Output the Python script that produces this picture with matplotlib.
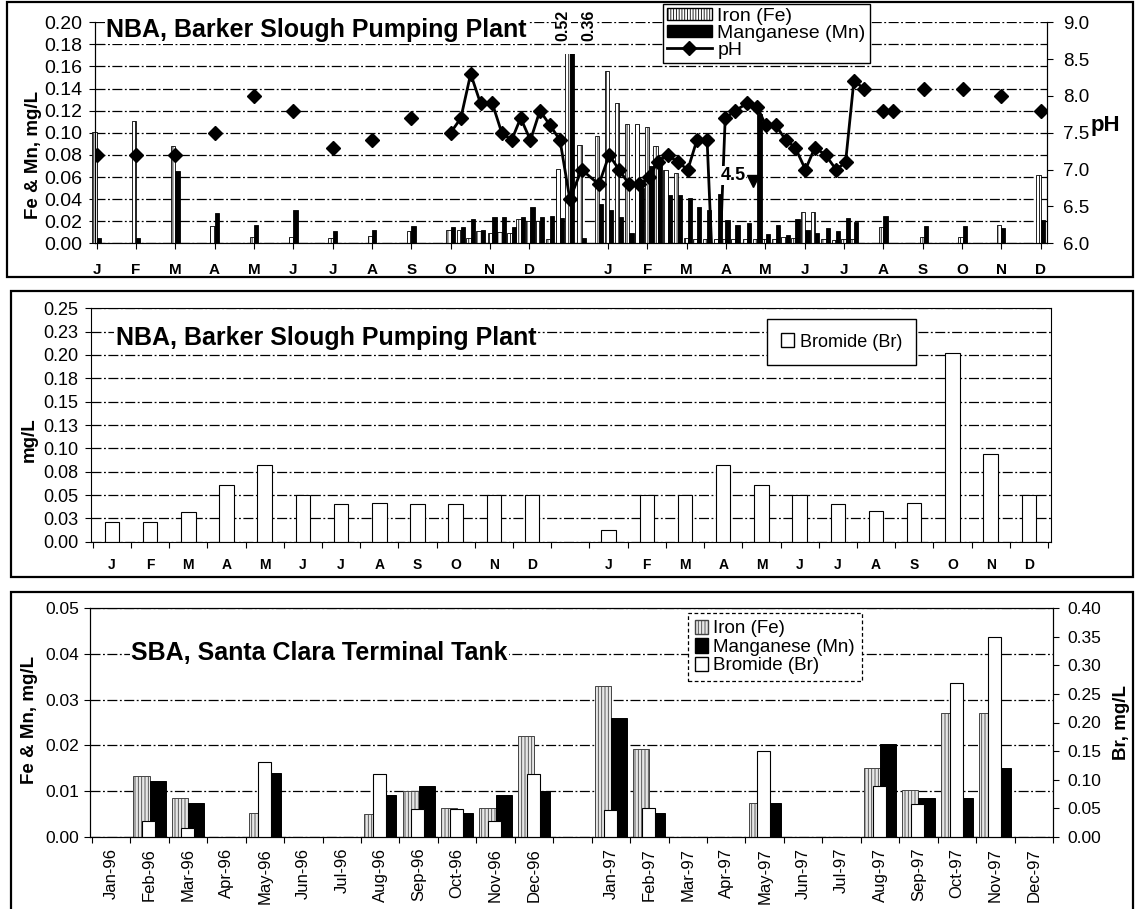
import numpy as np
import matplotlib
matplotlib.use('Agg')
import matplotlib.pyplot as plt
from matplotlib.patches import Rectangle, Patch
from matplotlib.lines import Line2D
from matplotlib.ticker import FormatStrFormatter

plt.rcParams['font.family'] = ['Liberation Sans', 'DejaVu Sans']
plt.rcParams['hatch.linewidth'] = 0.6

# month positions: 1996 at 0..11, 1997 at 13..24 (one blank month between years)
month_letters = ['J', 'F', 'M', 'A', 'M', 'J', 'J', 'A', 'S', 'O', 'N', 'D']
month_names = ['Jan', 'Feb', 'Mar', 'Apr', 'May', 'Jun',
               'Jul', 'Aug', 'Sep', 'Oct', 'Nov', 'Dec']
month_pos = list(range(12)) + list(range(13, 25))

# --- NBA Barker Slough: Fe / Mn samples (mg/L) ---
nba_t = [0, 1, 2, 3, 4, 5, 6, 7, 8,
         9.0, 9.26, 9.51, 9.76, 10.06, 10.30, 10.55, 10.78, 11.03, 11.27, 11.53, 11.78,
         12.03, 12.33, 12.77, 13.03, 13.28, 13.54, 13.80, 14.05, 14.26, 14.52, 14.78,
         15.03, 15.26, 15.52, 15.80, 15.98, 16.24, 16.53, 16.80, 17.01, 17.27, 17.52,
         17.76, 18.02, 18.26, 18.53, 18.80, 19.04, 19.25, 20.0, 21.03, 22.02, 22.99, 24.0]
nba_fe = [0.101, 0.111, 0.088, 0.016, 0.0055, 0.0055, 0.005, 0.0066, 0.0115,
          0.012, 0.012, 0.005, 0.011, 0.009, 0.010, 0.009, 0.022, 0.020, 0.020, 0.004, 0.067,
          0.36, 0.089, 0.097, 0.156, 0.127, 0.108, 0.108, 0.105, 0.088, 0.066, 0.064,
          0.005, 0.004, 0.004, 0.004, 0.004, 0.004, 0.004, 0.004, 0.004, 0.004, 0.006,
          0.005, 0.028, 0.028, 0.004, 0.003, 0.004, 0.004, 0.015, 0.0055, 0.0055, 0.0166, 0.062]
nba_mn = [0.0045, 0.005, 0.065, 0.027, 0.017, 0.030, 0.011, 0.012, 0.0157,
          0.015, 0.015, 0.022, 0.012, 0.024, 0.024, 0.015, 0.024, 0.033, 0.024, 0.025, 0.023,
          0.52, 0.005, 0.036, 0.030, 0.024, 0.009, 0.050, 0.070, 0.078, 0.044, 0.044,
          0.041, 0.033, 0.030, 0.045, 0.021, 0.017, 0.018, 0.117, 0.0085, 0.017, 0.0075,
          0.022, 0.012, 0.009, 0.014, 0.011, 0.023, 0.019, 0.025, 0.016, 0.016, 0.0136, 0.021]

# --- NBA Barker Slough: pH ---
ph_t = [0, 1, 2, 3, 4, 5, 6, 7, 8,
        9.0, 9.26, 9.51, 9.76, 10.06, 10.30, 10.55, 10.78, 11.03, 11.27, 11.53, 11.78,
        12.03, 12.33, 12.77, 13.03, 13.28, 13.54, 13.80, 14.05, 14.26, 14.52, 14.78,
        15.03, 15.26, 15.52, 15.75, 15.98, 16.24, 16.53, 16.80, 17.01, 17.27, 17.52,
        17.76, 18.02, 18.26, 18.53, 18.80, 19.04, 19.25, 19.52,
        20.0, 20.24, 21.03, 22.02, 22.99, 24.0]
ph_v = [7.2, 7.2, 7.2, 7.5, 8.0, 7.8, 7.3, 7.4, 7.7,
        7.5, 7.7, 8.3, 7.9, 7.9, 7.5, 7.4, 7.7, 7.4, 7.8, 7.6, 7.4,
        6.6, 7.0, 6.8, 7.2, 7.0, 6.8, 6.8, 6.9, 7.1, 7.2, 7.1,
        7.0, 7.4, 7.4, 4.5, 7.7, 7.8, 7.9, 7.85, 7.6, 7.6, 7.4,
        7.3, 7.0, 7.3, 7.2, 7.0, 7.1, 8.2, 8.1,
        7.8, 7.8, 8.1, 8.1, 8.0, 7.8]

# --- NBA Barker Slough: bromide, monthly ---
br_nba = [0.021, 0.021, 0.032, 0.061, 0.082, 0.050, 0.040, 0.041, 0.040, 0.040, 0.050, 0.050,
          0.012, 0.050, 0.050, 0.082, 0.061, 0.050, 0.040, 0.033, 0.041, 0.202, 0.094, 0.050]
br_ticks = ['0.00', '0.03', '0.05', '0.08', '0.10', '0.13',
            '0.15', '0.18', '0.20', '0.23', '0.25']

# --- SBA Santa Clara Terminal Tank ---
sba_t = [1, 2, 4, 7, 8, 9, 10, 11, 13, 14, 17, 20, 21, 22, 23]
sba_fe = [0.0133, 0.0084, 0.0051, 0.005, 0.010, 0.0062, 0.0062, 0.022,
          0.033, 0.0193, 0.0073, 0.0151, 0.0102, 0.0271, 0.027]
sba_mn = [0.0122, 0.0074, 0.014, 0.0091, 0.011, 0.0051, 0.0091, 0.010,
          0.026, 0.0051, 0.0073, 0.0202, 0.0084, 0.0084, 0.0151]
sba_br = [0.028, 0.016, 0.13, 0.11, 0.048, 0.049, 0.028, 0.11,
          0.047, 0.050, 0.15, 0.088, 0.058, 0.27, 0.35]

W, H = 1135, 909


def fx(px):
    return px / W


def fy(py):
    return 1 - py / H


grid_kw = dict(color='black', lw=0.9, ls=(0, (8, 2, 1.5, 2)))
title_size = 18
fig = plt.figure(figsize=(W / 100, H / 100), dpi=100)

# panel frames
for x0, y0, x1, y1 in [(7, 2, 1133, 277), (11, 291, 1133, 577), (11, 592, 1133, 915)]:
    fig.add_artist(Rectangle((fx(x0), fy(y1)), fx(x1) - fx(x0), fy(y0) - fy(y1),
                             transform=fig.transFigure, fill=False, lw=1.6, color='black'))

# ================= top: Fe, Mn and pH =================
ax1 = fig.add_axes([fx(94.6), fy(243.3), fx(1046.6) - fx(94.6), fy(22.3) - fy(243.3)])
ax1.set_xlim(-0.05, 24.15)
ax1.set_ylim(0, 0.20)
ax1.set_axisbelow(True)
t = np.array(nba_t)
fe_bars = ax1.bar(t - 0.055, nba_fe, 0.11, color='white', edgecolor='black',
                  lw=0.6, hatch='||||', zorder=2)
mn_bars = ax1.bar(t + 0.055, nba_mn, 0.11, color='black', edgecolor='black', lw=0.6, zorder=2)
# off-scale bars are cut short, values written above
cut = Rectangle((-1, 0), 30, 0.171, transform=ax1.transData)
for b in list(fe_bars) + list(mn_bars):
    b.set_clip_path(cut)
for xv, txt in [(11.86, '0.52'), (12.52, '0.36')]:
    ax1.text(xv, 0.197, txt, rotation=90, fontsize=11.5, fontweight='bold',
             ha='center', va='center', clip_on=False,
             bbox=dict(fc='white', ec='none', pad=0.5))

ax1.set_yticks(np.arange(0, 0.2001, 0.02))
ax1.yaxis.set_major_formatter(FormatStrFormatter('%.2f'))
ax1.grid(axis='y', **grid_kw)
ax1.set_xticks(month_pos)
ax1.set_xticklabels(month_letters * 2, fontweight='bold', fontsize=11)
ax1.tick_params(axis='x', length=4, pad=10)
ax1.tick_params(axis='y', labelsize=14, length=4, pad=5)
ax1.spines['top'].set_visible(False)
ax1.text(0.012, 0.965, 'NBA, Barker Slough Pumping Plant', transform=ax1.transAxes,
         fontsize=title_size, fontweight='bold', va='center', ha='left',
         bbox=dict(fc='white', ec='none', pad=1))

ax1r = ax1.twinx()
ax1r.set_ylim(6, 9)
pt = np.array(ph_t)
pv = np.array(ph_v)
run = (pt >= 9) & (pt <= 19.6)
ax1r.plot(pt[run], pv[run], color='black', lw=2)
ax1r.plot(pt, pv, ls='none', marker='D', ms=7, color='black')
ax1r.text(16.18, 6.92, '4.5', fontsize=13, fontweight='bold', ha='center', va='center',
          bbox=dict(fc='white', ec='none', pad=0.5))
ax1r.plot([16.68], [6.84], marker='v', ms=8, color='black')
ax1r.set_yticks(np.arange(6, 9.01, 0.5))
ax1r.yaxis.set_major_formatter(FormatStrFormatter('%.1f'))
ax1r.tick_params(axis='y', labelsize=13.5, length=4, pad=8)
ax1r.spines['top'].set_visible(False)
fig.text(fx(1091), fy(125), 'pH', fontsize=16, fontweight='bold', va='center', ha='left')
fig.text(fx(34), fy(155), 'Fe & Mn, mg/L', rotation=90, fontsize=13.5, fontweight='bold',
         ha='center', va='center')

top_handles = [Patch(facecolor='white', edgecolor='black', hatch='||||||', label='Iron (Fe)'),
               Patch(facecolor='black', edgecolor='black', label='Manganese (Mn)'),
               Line2D([], [], color='black', lw=2, marker='D', ms=7, label='pH')]
leg1 = ax1r.legend(handles=top_handles, loc='upper left', bbox_to_anchor=(fx(663), fy(4)),
                   bbox_transform=fig.transFigure, fancybox=False, framealpha=1,
                   edgecolor='black', fontsize=14, handlelength=2.3, handleheight=0.6,
                   labelspacing=0.0, borderpad=0.2, handletextpad=0.3, borderaxespad=0)
leg1.get_frame().set_linewidth(1.0)

# ================= middle: bromide =================
ax2 = fig.add_axes([fx(90.5), fy(541.7), fx(1051) - fx(90.5), fy(308.3) - fy(541.7)])
ax2.set_xlim(-0.56, 24.58)
ax2.set_ylim(0, 0.25)
ax2.set_axisbelow(True)
ax2.bar(month_pos, br_nba, 0.38, color='white', edgecolor='black', lw=0.8, zorder=2)
ax2.set_yticks(np.arange(0, 0.2501, 0.025))
ax2.set_yticklabels(br_ticks)
ax2.grid(axis='y', **grid_kw)
ax2.set_xticks(np.arange(-0.5, 25, 1))
ax2.set_xticklabels([])
ax2.set_xticks(month_pos, minor=True)
ax2.set_xticklabels(month_letters * 2, minor=True, fontweight='bold', fontsize=10)
ax2.tick_params(axis='x', which='major', length=4)
ax2.tick_params(axis='x', which='minor', length=0, pad=12)
ax2.tick_params(axis='y', labelsize=13, length=4, pad=5)
ax2.text(0.0265, 0.873, 'NBA, Barker Slough Pumping Plant', transform=ax2.transAxes,
         fontsize=title_size, fontweight='bold', va='center', ha='left',
         bbox=dict(fc='white', ec='none', pad=1))
leg2 = ax2.legend(handles=[Patch(facecolor='white', edgecolor='black', label='Bromide (Br)')],
                  loc='upper left', bbox_to_anchor=(fx(767), fy(319)),
                  bbox_transform=fig.transFigure, fancybox=False, framealpha=1,
                  edgecolor='black', fontsize=13, handlelength=0.7, handleheight=0.8,
                  borderpad=0.8, handletextpad=0.3, borderaxespad=0)
leg2.get_frame().set_linewidth(1.0)
fig.text(fx(29), fy(440), 'mg/L', rotation=90, fontsize=13.5, fontweight='bold',
         ha='center', va='center')

# ================= bottom: SBA Santa Clara =================
ax3 = fig.add_axes([fx(90), fy(836.7), fx(1053) - fx(90), fy(608.3) - fy(836.7)])
ax3.set_xlim(-0.55, 24.5)
ax3.set_ylim(0, 0.05)
ax3.set_axisbelow(True)
st = np.array(sba_t)
ax3.bar(st - 0.21, sba_fe, 0.42, color='#e6e6e6', edgecolor='#444444', lw=0.7,
        hatch='|||||', zorder=2)
ax3.bar(st + 0.21, sba_mn, 0.42, color='black', edgecolor='black', lw=0.7, zorder=2)
ax3.set_yticks(np.arange(0, 0.0501, 0.01))
ax3.yaxis.set_major_formatter(FormatStrFormatter('%.2f'))
ax3.grid(axis='y', **grid_kw)
ax3.set_xticks(np.arange(-0.5, 25, 1))
ax3.set_xticklabels([])
ax3.set_xticks(month_pos, minor=True)
ax3.set_xticklabels([f'{m}-96' for m in month_names] + [f'{m}-97' for m in month_names],
                    minor=True, rotation=90, fontsize=12)
ax3.tick_params(axis='x', which='major', length=4)
ax3.tick_params(axis='x', which='minor', length=0, pad=8)
ax3.tick_params(axis='y', labelsize=12.5, length=4, pad=4)
ax3.text(0.0426, 0.804, 'SBA, Santa Clara Terminal Tank', transform=ax3.transAxes,
         fontsize=title_size, fontweight='bold', va='center', ha='left',
         bbox=dict(fc='white', ec='none', pad=1))

ax3r = ax3.twinx()
ax3r.set_ylim(0, 0.40)
ax3r.bar(st - 0.02, sba_br, 0.34, color='white', edgecolor='black', lw=0.8)
ax3r.set_yticks(np.arange(0, 0.401, 0.05))
ax3r.yaxis.set_major_formatter(FormatStrFormatter('%.2f'))
ax3r.tick_params(axis='y', labelsize=12.5, length=4, pad=6)
fig.text(fx(30), fy(720), 'Fe & Mn, mg/L', rotation=90, fontsize=13.5, fontweight='bold',
         ha='center', va='center')
fig.text(fx(1121), fy(723), 'Br, mg/L', rotation=90, fontsize=13.5, fontweight='bold',
         ha='center', va='center')

bot_handles = [Patch(facecolor='#e6e6e6', edgecolor='#444444', hatch='|||||', label='Iron (Fe)'),
               Patch(facecolor='black', edgecolor='black', label='Manganese (Mn)'),
               Patch(facecolor='white', edgecolor='black', label='Bromide (Br)')]
leg3 = ax3r.legend(handles=bot_handles, loc='upper left', bbox_to_anchor=(fx(688), fy(613)),
                   bbox_transform=fig.transFigure, fancybox=False, framealpha=1,
                   edgecolor='black', fontsize=13.5, handlelength=0.7, handleheight=0.8,
                   labelspacing=0.05, borderpad=0.35, handletextpad=0.3, borderaxespad=0)
leg3.get_frame().set_linestyle((0, (3, 2)))
leg3.get_frame().set_linewidth(0.9)

fig.savefig('out.png', dpi=100)
